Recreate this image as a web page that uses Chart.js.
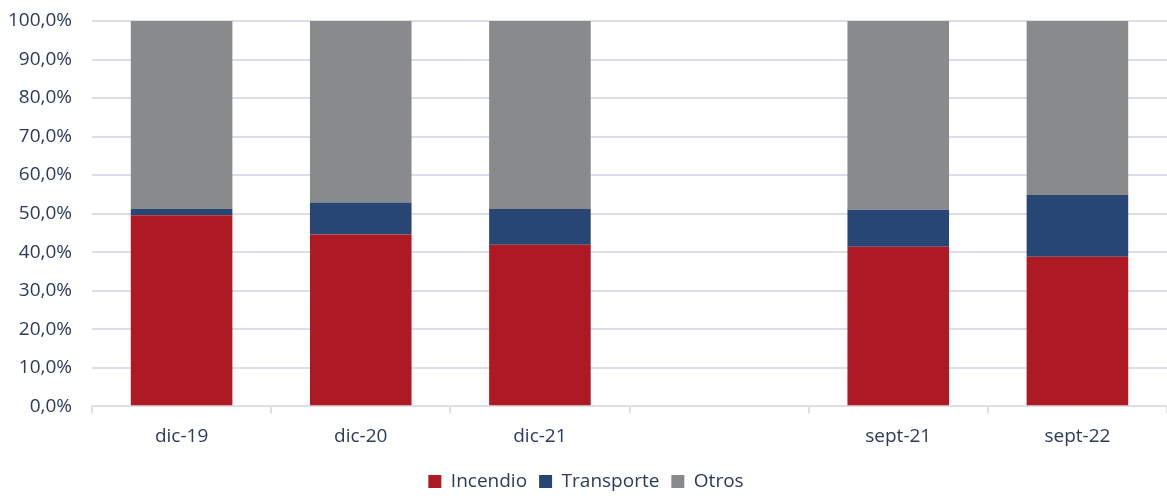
<!DOCTYPE html>
<html>
<head>
<meta charset="utf-8">
<script src="https://cdn.jsdelivr.net/npm/chart.js@4"></script>
<style>
  html, body { margin: 0; padding: 0; background: #fff; }
  #wrap { width: 1167px; height: 498px; }
</style>
</head>
<body>
<div id="wrap"><canvas id="chart"></canvas></div>
<script>
// categories (empty slot between the december and september groups)
const labels = ["dic-19", "dic-20", "dic-21", "", "sept-21", "sept-22"];

// shares in %
const incendio   = [49.6, 44.6, 41.9, null, 41.4, 38.8];
const transporte = [1.6, 8.3, 9.3, null, 9.6, 16.0];
const otros      = [48.8, 47.1, 48.8, null, 49.0, 45.2];

const COLORS = {
  red: "#ad1a24",
  blue: "#274673",
  gray: "#898a8c",
  text: "#2b3a5e",
  grid: "#dcdeee"
};

const FONT = "'Open Sans', 'Noto Sans', sans-serif";

function ds(label, data, color) {
  return {
    label,
    data,
    backgroundColor: color,
    borderWidth: 0,
    barPercentage: 0.567,
    categoryPercentage: 1
  };
}

new Chart(document.getElementById("chart"), {
  type: "bar",
  data: {
    labels,
    datasets: [
      ds("Incendio", incendio, COLORS.red),
      ds("Transporte", transporte, COLORS.blue),
      ds("Otros", otros, COLORS.gray)
    ]
  },
  options: {
    responsive: true,
    maintainAspectRatio: false,
    animation: false,
    layout: { padding: { top: 21, right: -5, left: 0, bottom: -3 } },
    plugins: {
      tooltip: { enabled: false },
      legend: {
        position: "bottom",
        labels: {
          boxWidth: 13,
          boxHeight: 13,
          padding: 12,
          color: COLORS.text,
          font: { family: FONT, size: 19 }
        }
      }
    },
    scales: {
      x: {
        stacked: true,
        grid: {
          offset: true,
          drawOnChartArea: false,
          drawTicks: true,
          tickLength: 7,
          color: COLORS.grid,
          lineWidth: 2
        },
        border: { color: COLORS.grid, width: 2 },
        ticks: {
          color: COLORS.text,
          padding: 12,
          font: { family: FONT, size: 19 }
        }
      },
      y: {
        stacked: true,
        min: 0,
        max: 100,
        afterFit: (scale) => { scale.width = 92; },
        grid: {
          color: COLORS.grid,
          lineWidth: 2,
          drawTicks: true,
          tickLength: 20,
          tickColor: "rgba(0,0,0,0)"
        },
        border: { display: false },
        ticks: {
          stepSize: 10,
          padding: 0,
          color: COLORS.text,
          font: { family: FONT, size: 19 },
          callback: (v) => v.toFixed(1).replace(".", ",") + "%"
        }
      }
    }
  }
});
</script>
</body>
</html>
